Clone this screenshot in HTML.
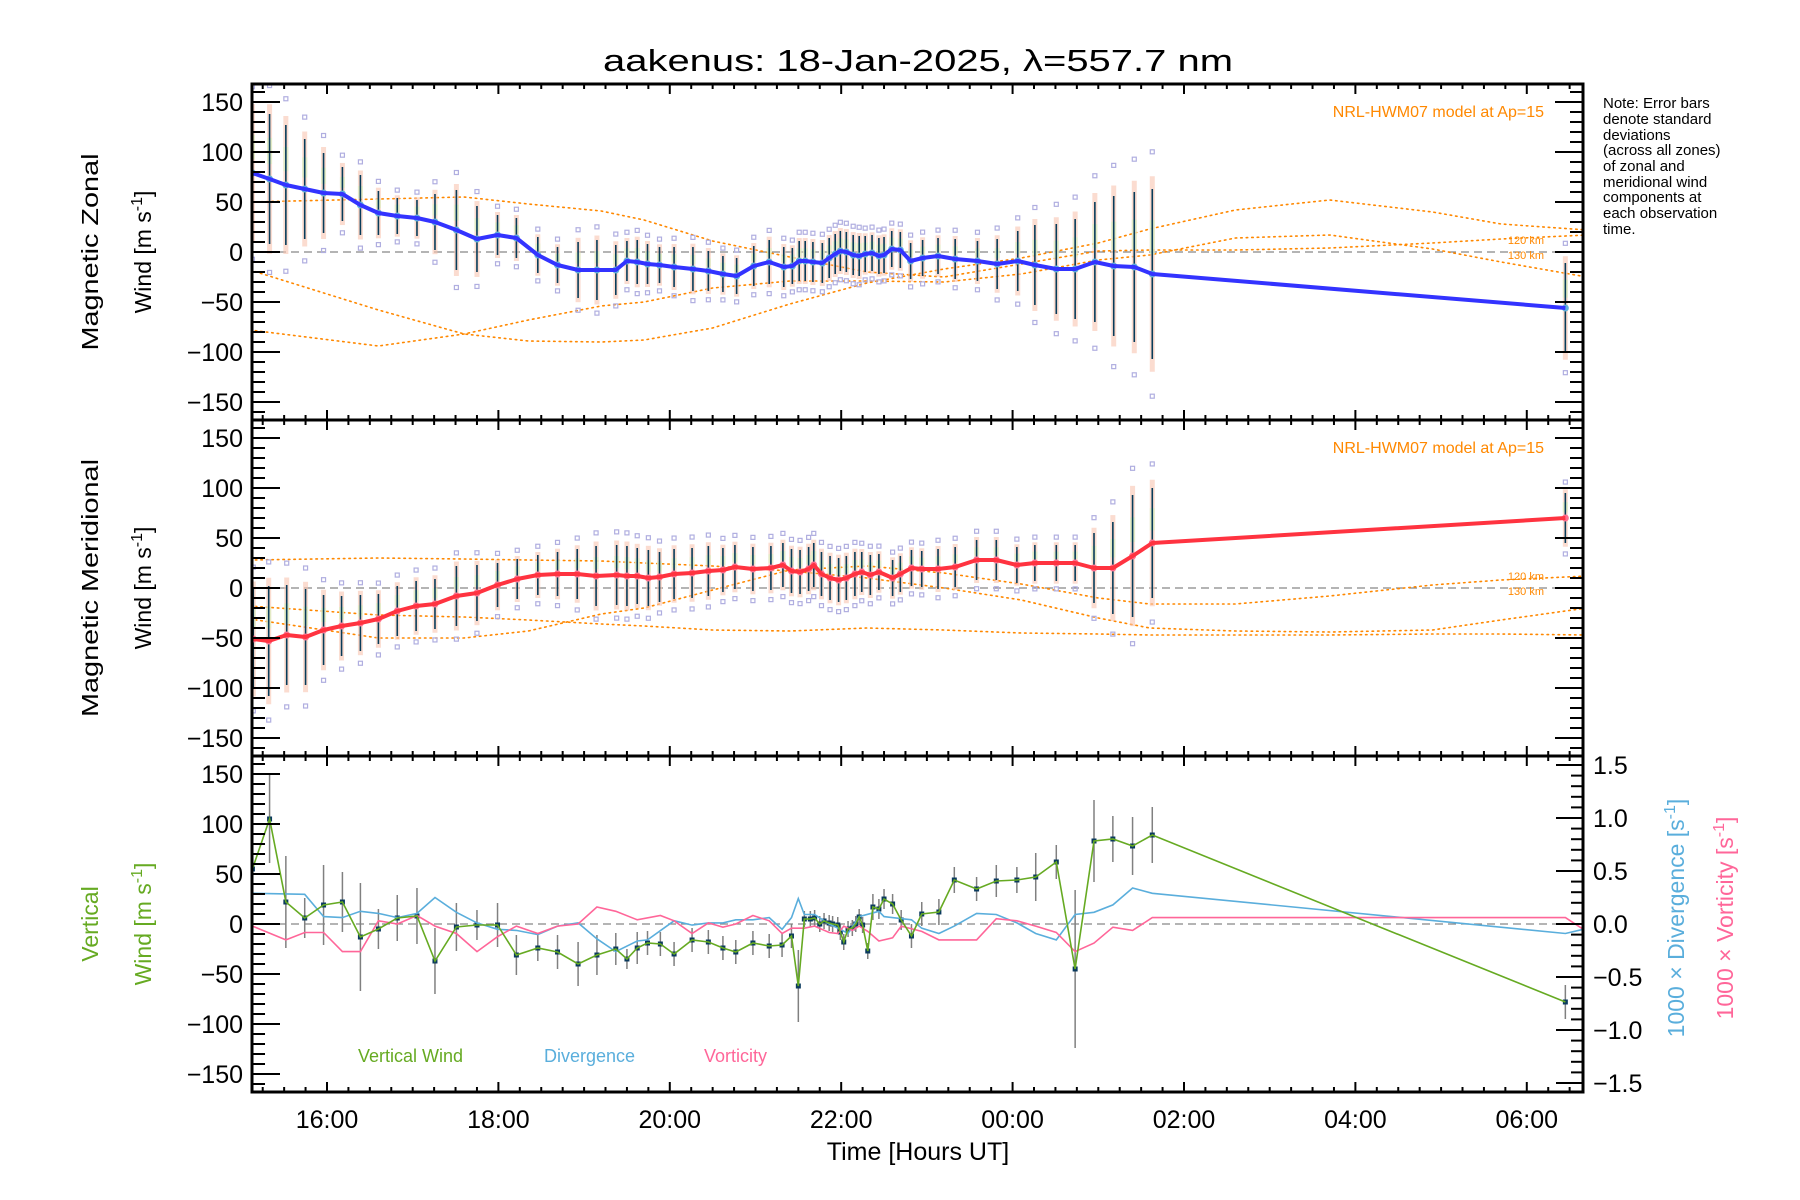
<!DOCTYPE html>
<html><head><meta charset="utf-8">
<style>
html,body{margin:0;padding:0;background:#fff;}
svg{display:block;font-family:"Liberation Sans",sans-serif;}
</style></head>
<body>
<svg id="chart" width="1800" height="1200" viewBox="0 0 1800 1200" xmlns="http://www.w3.org/2000/svg">
<rect width="1800" height="1200" fill="#fff"/>
<text x="918" y="71" font-size="31" text-anchor="middle" textLength="630" lengthAdjust="spacingAndGlyphs">aakenus: 18-Jan-2025, λ=557.7 nm</text>
<g id="layer"></g>
<g font-size="15" fill="#000">
<text x="1603" y="108">Note: Error bars</text>
<text x="1603" y="124">denote standard</text>
<text x="1603" y="140">deviations</text>
<text x="1603" y="155">(across all zones)</text>
<text x="1603" y="171">of zonal and</text>
<text x="1603" y="187">meridional wind</text>
<text x="1603" y="202">components at</text>
<text x="1603" y="218">each observation</text>
<text x="1603" y="234">time.</text>
</g>
<g font-size="23">
<text transform="translate(98,252) rotate(-90)" text-anchor="middle" textLength="197" lengthAdjust="spacingAndGlyphs">Magnetic Zonal</text>
<text transform="translate(151,252) rotate(-90)" text-anchor="middle">Wind [m s<tspan dy="-9" font-size="16">-1</tspan><tspan dy="9">]</tspan></text>
<text transform="translate(98,588) rotate(-90)" text-anchor="middle" textLength="258" lengthAdjust="spacingAndGlyphs">Magnetic Meridional</text>
<text transform="translate(151,588) rotate(-90)" text-anchor="middle">Wind [m s<tspan dy="-9" font-size="16">-1</tspan><tspan dy="9">]</tspan></text>
<text fill="#66aa22" transform="translate(98,924) rotate(-90)" text-anchor="middle">Vertical</text>
<text fill="#66aa22" transform="translate(151,924) rotate(-90)" text-anchor="middle">Wind [m s<tspan dy="-9" font-size="16">-1</tspan><tspan dy="9">]</tspan></text>
<text fill="#5aaedc" transform="translate(1684,918) rotate(-90)" text-anchor="middle">1000 × Divergence [s<tspan dy="-9" font-size="16">-1</tspan><tspan dy="9">]</tspan></text>
<text fill="#ff6699" transform="translate(1733,918) rotate(-90)" text-anchor="middle">1000 × Vorticity [s<tspan dy="-9" font-size="16">-1</tspan><tspan dy="9">]</tspan></text>
</g>
<text x="918" y="1160" font-size="25" text-anchor="middle">Time [Hours UT]</text>
<g font-size="18">
<text x="358" y="1062" fill="#66aa22">Vertical Wind</text>
<text x="544" y="1062" fill="#5aaedc">Divergence</text>
<text x="704" y="1062" fill="#ff6699">Vorticity</text>
</g>
</svg>
<script>
// ---- data ----
const zonalTimes=[15.13,15.33,15.52,15.74,15.96,16.18,16.39,16.60,16.82,17.05,17.26,17.51,17.75,17.99,18.21,18.46,18.69,18.93,19.15,19.37,19.50,19.62,19.74,19.88,20.05,20.27,20.45,20.62,20.78,20.98,21.16,21.33,21.43,21.51,21.58,21.67,21.78,21.86,21.93,21.99,22.06,22.14,22.21,22.28,22.36,22.44,22.50,22.59,22.69,22.81,22.95,23.13,23.33,23.59,23.82,24.06,24.26,24.51,24.73,24.96,25.18,25.42,25.63,30.45];
const zonalValues=[79,73,67,63,59,58,47,39,36,34,30,22,13,17,14,-3,-13,-18,-18,-18,-9,-10,-12,-13,-15,-17,-19,-22,-24,-14,-10,-15,-14,-9,-9,-10,-11,-6,-2,1,0,-3,-4,-2,-1,-4,-3,3,2,-9,-6,-4,-7,-9,-12,-9,-13,-17,-17,-10,-14,-15,-22,-56];
const zonalErrors=[60,65,60,50,40,27,30,22,18,18,28,40,33,20,20,18,18,28,30,25,20,22,20,18,20,22,20,18,18,20,22,20,18,20,20,20,20,20,20,20,20,20,20,18,18,18,18,18,18,18,18,18,20,20,25,30,40,45,50,60,70,75,85,45];
const meridTimes=[15.14,15.32,15.53,15.75,15.96,16.17,16.39,16.60,16.82,17.04,17.26,17.51,17.75,17.99,18.22,18.46,18.69,18.92,19.14,19.38,19.50,19.62,19.75,19.88,20.05,20.26,20.45,20.62,20.76,20.97,21.18,21.32,21.42,21.52,21.62,21.68,21.77,21.87,21.97,22.06,22.16,22.24,22.34,22.44,22.60,22.69,22.82,22.94,23.13,23.33,23.58,23.81,24.05,24.26,24.51,24.73,24.95,25.17,25.40,25.63,30.45];
const meridValues=[-51,-53,-47,-49,-42,-38,-35,-31,-23,-18,-16,-8,-5,3,9,13,14,14,12,13,12,12,10,11,14,15,17,18,21,19,20,23,17,16,19,23,14,10,8,10,14,16,13,16,10,14,20,19,19,21,28,28,23,25,25,25,20,20,32,45,70];
const meridErrors=[50,55,50,48,35,30,28,25,25,25,25,30,28,22,20,20,22,25,30,30,30,28,28,25,25,25,25,22,22,22,22,22,22,22,22,22,22,22,22,22,22,20,20,18,18,18,18,18,20,20,20,20,18,18,18,18,35,46,61,55,25];
const vertTimes=[15.13,15.33,15.52,15.74,15.96,16.18,16.39,16.60,16.82,17.05,17.26,17.51,17.75,17.99,18.21,18.46,18.69,18.93,19.15,19.37,19.50,19.62,19.74,19.89,20.05,20.26,20.45,20.62,20.77,20.97,21.16,21.31,21.42,21.50,21.57,21.64,21.69,21.75,21.80,21.86,21.90,21.96,21.99,22.03,22.08,22.13,22.17,22.21,22.25,22.31,22.37,22.44,22.50,22.60,22.70,22.82,22.94,23.14,23.32,23.58,23.81,24.05,24.27,24.51,24.73,24.95,25.17,25.40,25.63,30.45];
const vertValues=[55,105,22,6,19,22,-13,-5,6,8,-37,-3,-1,-1,-31,-24,-28,-40,-31,-25,-35,-24,-19,-20,-30,-16,-18,-24,-28,-19,-22,-21,-12,-62,5,5,6,0,3,1,0,-1,-8,-18,-5,-4,0,7,-1,-27,17,15,25,20,4,-12,10,12,44,35,43,44,47,62,-45,83,85,78,89,-78];
const vertErrors=[0,44,46,20,40,30,54,20,23,28,33,24,15,22,20,13,17,22,20,16,10,16,12,12,12,12,12,12,12,12,12,12,12,36,8,8,8,8,8,8,8,8,8,8,8,8,8,8,8,8,13,10,10,10,10,12,12,13,13,12,16,13,24,17,79,41,23,29,28,17];
const divTimes=[15.13,15.74,15.96,16.18,16.39,16.60,16.82,17.05,17.26,17.51,17.75,17.99,18.21,18.46,18.69,18.93,19.15,19.37,19.62,19.74,20.05,20.26,20.45,20.62,20.77,20.97,21.16,21.31,21.42,21.50,21.57,21.69,21.86,21.99,22.08,22.21,22.44,22.50,22.82,22.94,23.14,23.32,23.58,23.81,24.05,24.27,24.51,24.73,24.95,25.17,25.40,25.63,30.45,30.66];
const divValues=[0.29,0.28,0.07,0.06,0.12,0.10,0.06,0.10,0.25,0.11,0.01,-0.05,-0.06,-0.10,-0.02,0.01,-0.14,-0.26,-0.16,-0.15,0.03,-0.01,0.01,0.01,0.04,0.04,0.06,-0.05,0.06,0.24,0.09,0.09,0,-0.05,-0.09,0.07,0.12,0.07,0.04,-0.04,-0.09,-0.02,0.10,0.09,0.01,-0.09,-0.15,0.09,0.11,0.18,0.34,0.29,-0.09,-0.05];
const vortTimes=[15.13,15.52,15.74,15.96,16.18,16.39,16.60,16.82,17.05,17.26,17.51,17.75,17.99,18.21,18.46,18.69,18.93,19.15,19.37,19.62,19.89,20.05,20.26,20.45,20.62,20.77,20.97,21.16,21.31,21.42,21.57,21.69,21.86,21.96,22.03,22.13,22.21,22.31,22.44,22.60,22.70,22.94,23.14,23.58,23.81,24.05,24.27,24.51,24.73,24.95,25.17,25.40,25.63,30.45,30.66];
const vortValues=[-0.02,-0.15,-0.08,-0.08,-0.26,-0.26,0.03,0,0.08,-0.02,-0.09,-0.26,-0.12,-0.02,-0.09,-0.02,0,0.16,0.12,0.04,0.08,0.03,-0.09,0.01,-0.03,0,0.08,0.03,-0.09,-0.04,-0.04,-0.02,-0.08,-0.09,-0.02,-0.06,-0.02,-0.07,-0.16,-0.13,-0.02,-0.07,-0.15,-0.15,0.05,0.03,-0.02,-0.08,-0.26,-0.18,-0.03,-0.06,0.06,0.06,-0.05];
const modelTimes=[15.1,16.6,17.6,18.35,19.2,19.7,20.5,21.4,22.3,23.2,24.1,25.0,25.6,26.6,27.7,28.9,29.7,30.7];
const zonalModelA=[50,53,55,48,41,32,11,-5,-20,-25,-12,1,2,2,4,9,13,17];
const zonalModelB=[-18,-58,-82,-89,-90,-88,-76,-52,-31,-17,-6,9,23,42,52,40,28,22];
const zonalModelC=[-78,-94,-82,-68,-54,-50,-36,-29,-29,-30,-22,-8,-3,14,17,3,-10,-25];
const meridModelD=[28,30,29,28,27,25,22,17,10,0,-12,-30,-40,-43,-44,-42,-32,-20];
const meridModelE=[-18,-27,-29,-32,-36,-38,-42,-43,-40,-42,-45,-46,-47,-47,-47,-46,-46,-47];
const meridModelF=[-31,-50,-50,-43,-26,-20,-2,18,22,15,4,-10,-16,-16,-8,3,8,12];
const yTickValues=[-150,-100,-50,0,50,100,150];
const yTickLabels=["−150","−100","−50","0","50","100","150"];
const rTickValues=[-1.5,-1.0,-0.5,0,0.5,1.0,1.5];
const rTickLabels=["−1.5","−1.0","−0.5","0.0","0.5","1.0","1.5"];
const xTickHours=[16,18,20,22,24,26,28,30];
const xTickLabels=["16:00","18:00","20:00","22:00","00:00","02:00","04:00","06:00"];

// ---- geometry ----
const X0=252,X1=1583,H0=15.125,PXH=85.7;
const panels=[{top:84},{top:420},{top:756}];
panels.forEach(p=>{p.bot=p.top+336;p.mid=p.top+168;});
const xs=h=>X0+(h-H0)*PXH;
const ys=(p,v)=>panels[p].mid-v*1.0;
const yr=v=>panels[2].mid-v*106;
const NS="http://www.w3.org/2000/svg";
const layer=document.getElementById('layer');
function mk(tag,attrs,parent){const e=document.createElementNS(NS,tag);for(const k in attrs)e.setAttribute(k,attrs[k]);(parent||layer).appendChild(e);return e;}

const defs=mk('defs',{});
panels.forEach((p,i)=>{const c=mk('clipPath',{id:'clip'+i},defs);mk('rect',{x:X0,y:p.top,width:X1-X0,height:336},c);});

function poly(p,ts,vs,fn,attrs,name){
  const pts=ts.map((t,i)=>xs(t).toFixed(1)+','+fn(vs[i]).toFixed(1)).join(' ');
  const e=mk('polyline',Object.assign({points:pts,fill:'none','clip-path':'url(#clip'+p+')'},attrs));
  
  
  return e;
}

panels.forEach((p,i)=>{
  const l=mk('line',{x1:X0,x2:X1,y1:p.mid,y2:p.mid,stroke:'#888','stroke-width':1.3,'stroke-dasharray':'8 5'});
  
  
});

const dotted={stroke:'#ff8800','stroke-width':1.6,'stroke-dasharray':'1.5 4','stroke-linecap':'round'};
[zonalModelA,zonalModelB,zonalModelC].forEach(arr=>poly(0,modelTimes,arr,v=>ys(0,v),dotted,'hwm-model-zonal'));
[meridModelD,meridModelE,meridModelF].forEach(arr=>poly(1,modelTimes,arr,v=>ys(1,v),dotted,'hwm-model-meridional'));

function obsPanel(p,ts,vs,es,lineColor,markColor,name){
  const g=mk('g',{'clip-path':'url(#clip'+p+')'});
  
  
  ts.forEach((t,i)=>{
    const x=xs(t),v=vs[i],e=es[i]*1.15;
    const b=mk('rect',{x:x-2.5,y:ys(p,v+e),width:5,height:2*e,fill:'#f9c4b0',opacity:0.6},g);
    
    
    const b2=mk('rect',{x:x-2.5,y:ys(p,v+e*0.55),width:5,height:e*0.35,fill:'#d8f0c0',opacity:0.7},g);
    
    
    [e*1.25,-e*1.25].forEach(d=>{
      const s=mk('rect',{x:x-2,y:ys(p,v+d)-2,width:4,height:4,fill:'none',stroke:'#b0aee0','stroke-width':1.2},g);
      
      
    });
  });
  ts.forEach((t,i)=>{
    const x=xs(t);
    const l=mk('line',{x1:x,x2:x,y1:ys(p,vs[i]+es[i]),y2:ys(p,vs[i]-es[i]),stroke:'#083c5a','stroke-width':1.6},g);
    
    
  });
  poly(p,ts,vs,v=>ys(p,v),{stroke:lineColor,'stroke-width':4,'stroke-linejoin':'round'},name+'-line');
  ts.forEach((t,i)=>{
    const c=mk('circle',{cx:xs(t),cy:ys(p,vs[i]),r:3.5,fill:markColor},g);
    
    
  });
}
obsPanel(0,zonalTimes,zonalValues,zonalErrors,'#3333ff','#5fb0dc','zonal-wind');
obsPanel(1,meridTimes,meridValues,meridErrors,'#ff3340','#ff6f8f','meridional-wind');

const g3=mk('g',{'clip-path':'url(#clip2)'});
vertTimes.forEach((t,i)=>{
  if(!vertErrors[i])return;
  const l=mk('line',{x1:xs(t),x2:xs(t),y1:ys(2,vertValues[i]+vertErrors[i]),y2:ys(2,vertValues[i]-vertErrors[i]),stroke:'#808080','stroke-width':1.5},g3);
  
  
});
poly(2,divTimes,divValues,yr,{stroke:'#5aaedc','stroke-width':1.6},'divergence-line');
poly(2,vortTimes,vortValues,yr,{stroke:'#ff6699','stroke-width':1.6},'vorticity-line');
poly(2,vertTimes,vertValues,v=>ys(2,v),{stroke:'#66aa22','stroke-width':1.6},'vertical-wind-line');
vertTimes.forEach((t,i)=>{
  const r=mk('rect',{x:xs(t)-2.5,y:ys(2,vertValues[i])-2.5,width:5,height:5,fill:'#0b3a5e'},g3);
  
  
});

[0,1].forEach(p=>{
  const t=mk('text',{x:1544,y:panels[p].top+33,'font-size':16,fill:'#ff8800','text-anchor':'end'});
  t.textContent='NRL-HWM07 model at Ap=15';
  
  
  [['120 km',-12],['130 km',3]].forEach(([s,dy])=>{
    const k=mk('text',{x:1544,y:panels[p].mid+dy+4,'font-size':11,fill:'#ff8800','text-anchor':'end'});
    k.textContent=s;
    
    
  });
});

const ax=mk('g',{stroke:'#000','stroke-width':2});


panels.forEach((p,pi)=>{
  mk('rect',{x:X0,y:p.top,width:X1-X0,height:336,fill:'none','stroke-width':3},ax);
  for(let v=-160;v<=160;v+=10){
    const y=ys(pi,v),major=(v%50===0);
    const len=major?28:13;
    mk('line',{x1:X0,x2:X0+len,y1:y,y2:y},ax);
    if(pi<2) mk('line',{x1:X1,x2:X1-len,y1:y,y2:y},ax);
  }
  for(let h=15.25;h<=30.6;h+=0.25){
    const x=xs(h),major=Math.abs((h-16)%2)<1e-6;
    const len=major?10:5;
    mk('line',{x1:x,x2:x,y1:p.top,y2:p.top+len},ax);
    mk('line',{x1:x,x2:x,y1:p.bot,y2:p.bot-len},ax);
  }
  yTickValues.forEach((v,i)=>{
    const t=mk('text',{x:243,y:ys(pi,v)+9,'font-size':25,'text-anchor':'end'});
    t.textContent=yTickLabels[i];
    
    
  });
});
for(let k=-15;k<=15;k++){
  const y=yr(k/10),major=(k%5===0);
  mk('line',{x1:X1,x2:X1-(major?27:12),y1:y,y2:y},ax);
}
rTickValues.forEach((v,i)=>{
  const t=mk('text',{x:1593,y:yr(v)+9,'font-size':25});
  t.textContent=rTickLabels[i];
  
  
});
xTickHours.forEach((h,i)=>{
  const t=mk('text',{x:xs(h),y:1128,'font-size':25,'text-anchor':'middle'});
  t.textContent=xTickLabels[i];
  
  
});
</script>
</body></html>
